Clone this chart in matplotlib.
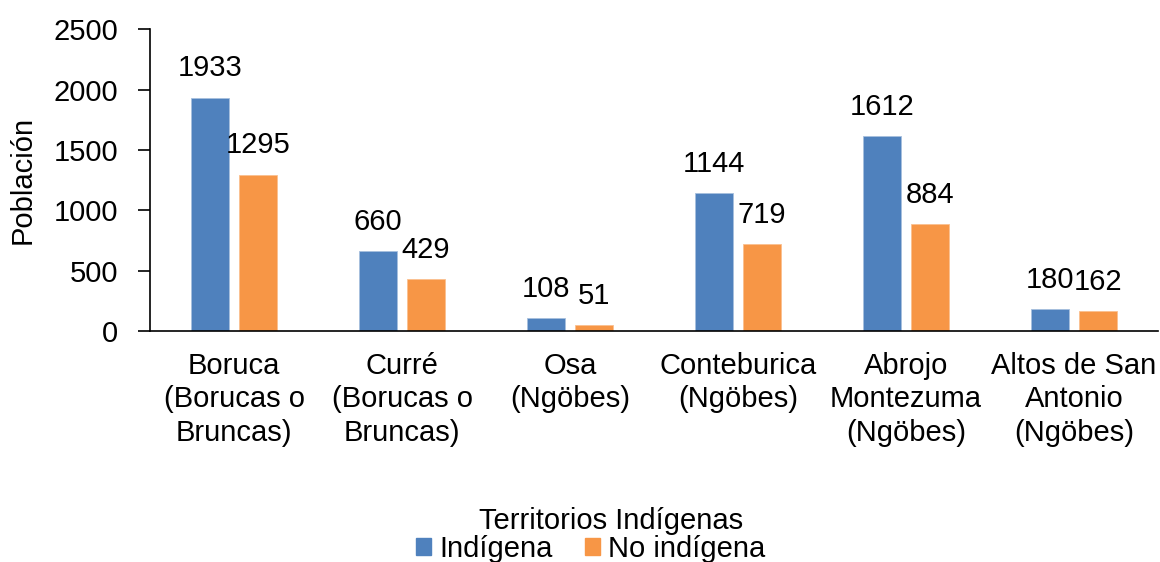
#!/usr/bin/env python3

import matplotlib
matplotlib.use('Agg')
import matplotlib.pyplot as plt
from matplotlib.patches import Patch
import numpy as np

plt.rcParams['font.family'] = ['Liberation Sans', 'DejaVu Sans']

territorios = ["Boruca\n(Borucas o\nBruncas)", "Curré\n(Borucas o\nBruncas)", "Osa\n(Ngöbes)",
               "Conteburica\n(Ngöbes)", "Abrojo\nMontezuma\n(Ngöbes)", "Altos de San\nAntonio\n(Ngöbes)"]
indigena = [1933, 660, 108, 1144, 1612, 180]
no_indigena = [1295, 429, 51, 719, 884, 162]
yticks = [0, 500, 1000, 1500, 2000, 2500]

azul = "#4F81BD"
naranja = "#F79646"
fs = 21

fig = plt.figure(figsize=(11.6, 5.62), dpi=100)
ax = fig.add_axes([150/1160, 1 - 331/562, 1008/1160, (331 - 29.3)/562])

x = np.arange(len(territorios))
w = 0.225
off = 0.142
b1 = ax.bar(x - off, indigena, w, color=azul, edgecolor="#A7BFDE", linewidth=0.6)
b2 = ax.bar(x + off, no_indigena, w, color=naranja, edgecolor="#FAC090", linewidth=0.6)

for bars, vals in ((b1, indigena), (b2, no_indigena)):
    for r, v in zip(bars, vals):
        ax.annotate(str(v), (r.get_x() + r.get_width()/2, v), xytext=(0, 11),
                    textcoords="offset points", ha="center", va="bottom", fontsize=fs)

ax.set_xlim(-0.5, len(territorios) - 0.5)
ax.set_ylim(0, 2500)
ax.set_yticks(yticks)
ax.set_xticks(x)
ax.set_xticklabels(territorios, fontsize=fs, linespacing=1.25)
ax.tick_params(axis='x', length=0, pad=15)
ax.tick_params(axis='y', length=9, width=1.2, labelsize=fs, pad=14)
ax.spines['top'].set_visible(False)
ax.spines['right'].set_visible(False)
ax.spines['left'].set_linewidth(1.2)
ax.spines['bottom'].set_linewidth(1.2)
ax.set_ylabel("Población", fontsize=fs, labelpad=12)

fig.text(611/1160, 1 - 521/562, "Territorios Indígenas", ha="center", va="center", fontsize=fs)
handles = [Patch(color=azul, label="Indígena"), Patch(color=naranja, label="No indígena")]
fig.legend(handles=handles, loc="center", bbox_to_anchor=(591/1160, 1 - 549/562), ncol=2,
           frameon=False, fontsize=fs, handlelength=0.5, handleheight=0.5,
           handletextpad=0.3, columnspacing=1.1, borderpad=0)

fig.savefig("out.png", dpi=100)
